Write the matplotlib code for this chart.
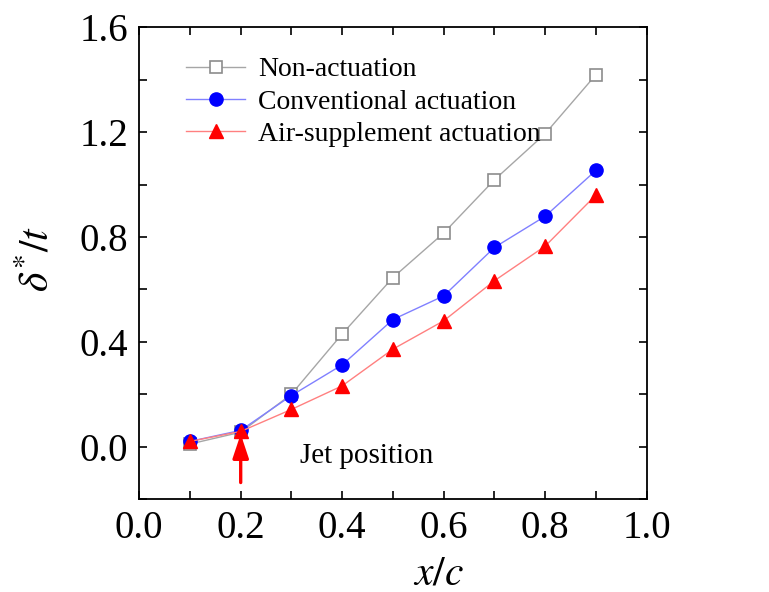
import matplotlib
matplotlib.use("Agg")
import matplotlib.pyplot as plt
from matplotlib.ticker import MultipleLocator

plt.rcParams['font.family'] = ['Liberation Serif', 'DejaVu Serif']
plt.rcParams['mathtext.fontset'] = 'stix'

x = [0.1, 0.2, 0.3, 0.4, 0.5, 0.6, 0.7, 0.8, 0.9]
non_actuation = [0.01, 0.055, 0.20, 0.43, 0.645, 0.815, 1.018, 1.194, 1.419]
conventional = [0.02, 0.062, 0.195, 0.312, 0.485, 0.575, 0.760, 0.879, 1.054]
air_supplement = [0.02, 0.058, 0.142, 0.232, 0.372, 0.480, 0.633, 0.765, 0.960]
labels = ["Non-actuation", "Conventional actuation", "Air-supplement actuation"]

fig = plt.figure(figsize=(7.69, 5.92), dpi=100)
ax = fig.add_axes([0.181, 0.157, 0.660, 0.797])

ax.plot(x, non_actuation, color='#a6a6a6', lw=1.0, marker='s', ms=8,
        mfc='white', mec='#8c8c8c', mew=1.2, label=labels[0], zorder=3)
ax.plot(x, conventional, color='#8080ff', lw=1.0, marker='o', ms=9.5,
        mfc='#0000ff', mec='#0000ff', label=labels[1], zorder=4)
ax.plot(x, air_supplement, color='#ff8080', lw=1.0, marker='^', ms=10,
        mfc='#ff0000', mec='#ff0000', label=labels[2], zorder=5)

ax.annotate('', xy=(0.2, 0.048), xytext=(0.2, -0.137),
            arrowprops=dict(arrowstyle='-|>,head_length=0.6,head_width=0.2',
                            color='red', lw=2.4, mutation_scale=24,
                            shrinkA=0, shrinkB=0))
ax.text(0.317, -0.034, 'Jet position', fontsize=21, va='center', ha='left')

ax.set_xlim(0, 1.0)
ax.set_ylim(-0.2, 1.6)
ax.xaxis.set_major_locator(MultipleLocator(0.2))
ax.xaxis.set_minor_locator(MultipleLocator(0.1))
ax.yaxis.set_major_locator(MultipleLocator(0.4))
ax.yaxis.set_minor_locator(MultipleLocator(0.2))
ax.set_yticks([0.0, 0.4, 0.8, 1.2, 1.6])
ax.tick_params(which='both', direction='in', top=True, right=True, width=1.2)
ax.tick_params(which='major', length=6, labelsize=28, pad=8)
ax.tick_params(which='minor', length=6)
for s in ax.spines.values():
    s.set_linewidth(1.3)

ax.set_xlabel(r'$x/c$', fontsize=30)
ax.xaxis.set_label_coords(0.589, -0.118)
ax.set_ylabel(r'$\delta^{*}/t$', fontsize=30)
ax.yaxis.set_label_coords(-0.16, 0.51)

ax.legend(loc='upper left', frameon=False, fontsize=20, handlelength=2.15,
          borderaxespad=0.6, labelspacing=0.25, handletextpad=0.45,
          bbox_to_anchor=(0.037, 0.996))

fig.savefig('out.png', dpi=100)
